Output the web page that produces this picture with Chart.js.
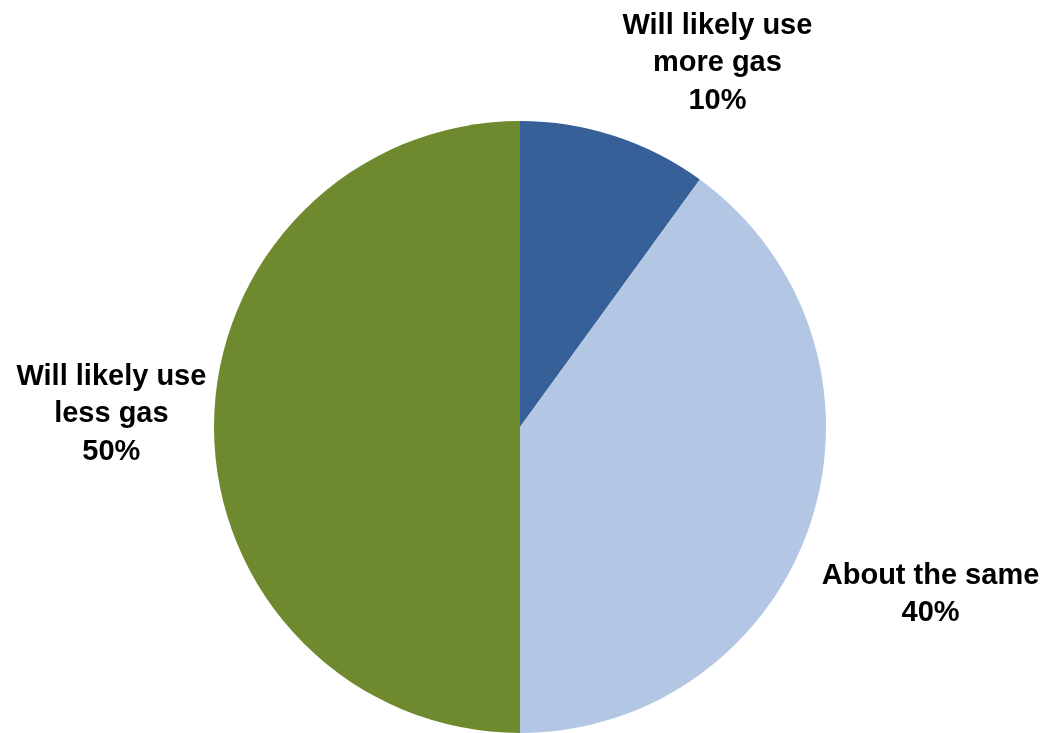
<!DOCTYPE html>
<html>
<head>
<meta charset="utf-8">
<script src="https://cdn.jsdelivr.net/npm/chart.js@4"></script>
<style>
  html, body { margin: 0; padding: 0; background: #fff; }
  #wrap { width: 1048px; height: 733px; }
</style>
</head>
<body>
<div id="wrap"><canvas id="myChart" width="1048" height="733"></canvas></div>
<script>
const labels = [['Will likely use', 'more gas'], ['About the same'], ['Will likely use', 'less gas']];
const shares = [10, 40, 50];
const colors = ['#376099', '#B3C6E3', '#6F8A2E'];

// where each label sits, in polar terms around the pie centre (degrees, radius multiple)
const labelPlace = [
    { deg: -61.5, dist: 1.352 },
    { deg: 22.2, dist: 1.449 },
    { deg: 181.8, dist: 1.336 }
];

const outsideLabels = {
    id: 'outsideLabels',
    afterDraw(chart) {
        const ctx = chart.ctx;
        const meta = chart.getDatasetMeta(0);
        ctx.save();
        ctx.font = 'bold 29px "Liberation Sans", Arial, sans-serif';
        ctx.fillStyle = '#000';
        ctx.textAlign = 'center';
        ctx.textBaseline = 'middle';
        const lineH = 37.5;
        meta.data.forEach((arc, i) => {
            const p = labelPlace[i];
            const a = p.deg * Math.PI / 180;
            const cx = arc.x + Math.cos(a) * arc.outerRadius * p.dist;
            const cy = arc.y + Math.sin(a) * arc.outerRadius * p.dist;
            const lines = labels[i].concat([shares[i] + '%']);
            const top = cy - (lines.length - 1) * lineH / 2;
            lines.forEach((t, j) => ctx.fillText(t, cx, top + j * lineH));
        });
        ctx.restore();
    }
};

const ctx = document.getElementById('myChart').getContext('2d');
const myChart = new Chart(ctx, {
    type: 'pie',
    data: {
        labels: labels.map(l => l.join(' ')),
        datasets: [{
            data: shares,
            backgroundColor: colors,
            borderWidth: 0
        }]
    },
    options: {
        responsive: false,
        animation: false,
        layout: { padding: { top: 121, bottom: 0, left: 0, right: 8 } },
        plugins: {
            legend: { display: false },
            tooltip: { enabled: false }
        }
    },
    plugins: [outsideLabels]
});
</script>
</body>
</html>
